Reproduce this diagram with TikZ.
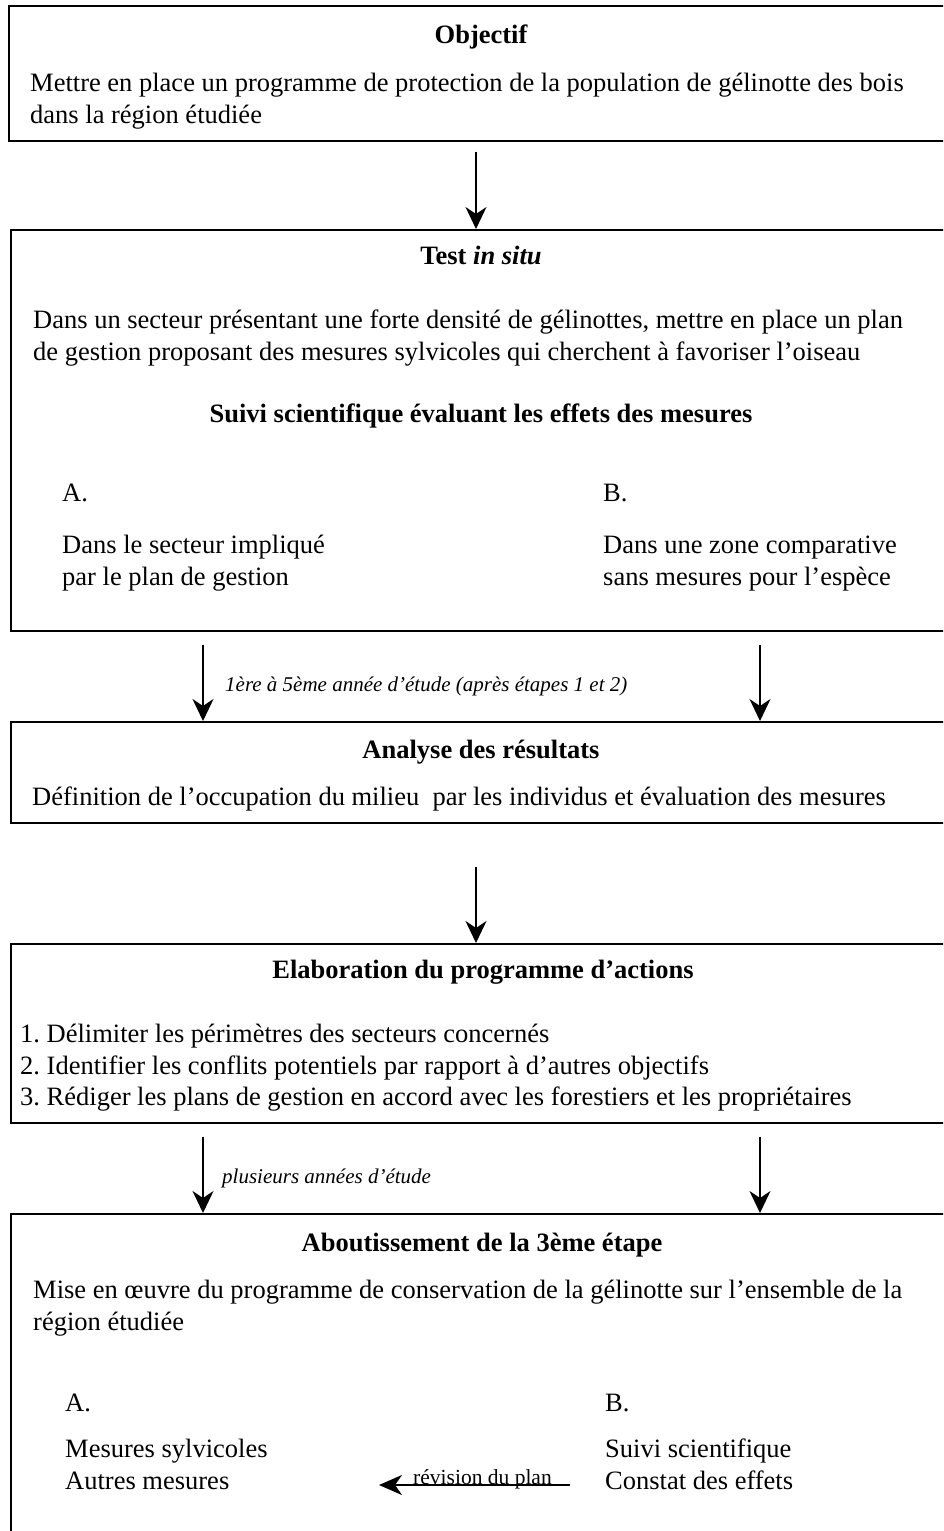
\documentclass[tikz,border=0pt]{standalone}
\usepackage{fontspec}
\setmainfont{Liberation Serif}
\frenchspacing
\usetikzlibrary{positioning, arrows, arrows.meta}

\begin{document}
\begin{tikzpicture}[->,>={Stealth[length=22pt,width=21pt,inset=7pt]},x=1pt,y=-1pt,
    box node/.style={draw,line width=1.7pt,rectangle,anchor=north west,minimum width=960pt,inner sep=0pt},
    body/.style={anchor=base west,inner sep=0pt,font=\fontsize{26.5}{30}\selectfont},
    head/.style={anchor=base,inner sep=0pt,font=\fontsize{26.5}{30}\selectfont\bfseries},
    step text/.style={anchor=base west,inner sep=0pt,font=\fontsize{21}{24}\selectfont\itshape},
    flow/.style={line width=1.7pt}]

\useasboundingbox (0,0) rectangle (943,1531);
\clip (0,0) rectangle (943,1531);

\node[box node,minimum height=135pt] (obj)  at (8,5)     {};
\node[box node,minimum height=401pt] (test) at (10,229)  {};
\node[box node,minimum height=101pt] (ana)  at (10,721)  {};
\node[box node,minimum height=179pt] (elab) at (10,943)  {};
\node[box node,minimum height=360pt] (abo)  at (10,1213) {};

\node[head] (objT)  at (481,43) {Objectif};
\node[body] (objL1) at (30,91)  {Mettre en place un programme de protection de la population de gélinotte des bois};
\node[body] (objL2) at (30,123) {dans la région étudiée};

\node[head] (testT)  at (481,264) {Test \textit{in situ}};
\node[body] (testL1) at (33,328)  {Dans un secteur présentant une forte densité de gélinottes, mettre en place un plan};
\node[body] (testL2) at (33,360)  {de gestion proposant des mesures sylvicoles qui cherchent à favoriser l’oiseau};
\node[head] (suivT)  at (481,422) {Suivi scientifique évaluant les effets des mesures};
\node[body] (testA)  at (62,501)  {A.};
\node[body] (testB)  at (603,501) {B.};
\node[body] (testA1) at (62,553)  {Dans le secteur impliqué};
\node[body] (testA2) at (62,585)  {par le plan de gestion};
\node[body] (testB1) at (603,553) {Dans une zone comparative};
\node[body] (testB2) at (603,585) {sans mesures pour l’espèce};

\node[head] (anaT) at (481,758) {Analyse des résultats};
\node[body] (anaL) at (32,805)  {Définition de l’occupation du milieu \ par les individus et évaluation des mesures};

\node[head] (elabT)  at (483,978) {Elaboration du programme d’actions};
\node[body] (elabL1) at (20,1042) {1. Délimiter les périmètres des secteurs concernés};
\node[body] (elabL2) at (20,1074) {2. Identifier les conflits potentiels par rapport à d’autres objectifs};
\node[body] (elabL3) at (20,1105) {3. Rédiger les plans de gestion en accord avec les forestiers et les propriétaires};

\node[head] (aboT)  at (482,1251) {Aboutissement de la 3ème étape};
\node[body] (aboL1) at (33,1298)  {Mise en œuvre du programme de conservation de la gélinotte sur l’ensemble de la};
\node[body] (aboL2) at (33,1330)  {région étudiée};
\node[body] (aboA)  at (65,1411)  {A.};
\node[body] (aboB)  at (605,1411) {B.};
\node[body] (aboA1) at (65,1457)  {Mesures sylvicoles};
\node[body] (aboA2) at (65,1489)  {Autres mesures};
\node[body] (aboB1) at (605,1457) {Suivi scientifique};
\node[body] (aboB2) at (605,1489) {Constat des effets};

\node[step text] (an1) at (225,691)  {1ère à 5ème année d’étude (après étapes 1 et 2)};
\node[step text] (an2) at (222,1183) {plusieurs années d’étude};

\coordinate (revS) at (570,1485);
\coordinate (revE) at (379,1485);

\draw[flow,shorten <=10pt] (476,0 |- obj.south) -- (476,0 |- test.north);
\draw[flow,shorten <=13pt] (203,0 |- test.south) -- (203,0 |- ana.north);
\draw[flow,shorten <=13pt] (760,0 |- test.south) -- (760,0 |- ana.north);
\draw[flow,shorten <=43pt] (476,0 |- ana.south) -- (476,0 |- elab.north);
\draw[flow,shorten <=13pt] (203,0 |- elab.south) -- (203,0 |- abo.north);
\draw[flow,shorten <=13pt] (760,0 |- elab.south) -- (760,0 |- abo.north);
\draw[flow,>={Stealth[length=23pt,width=20pt,inset=7pt]}] (revS) -- node[midway,anchor=base,xshift=8pt,yshift=1pt,inner sep=0pt,font=\fontsize{21.5}{24}\selectfont] (rev) {révision du plan} (revE);
\end{tikzpicture}
\end{document}
